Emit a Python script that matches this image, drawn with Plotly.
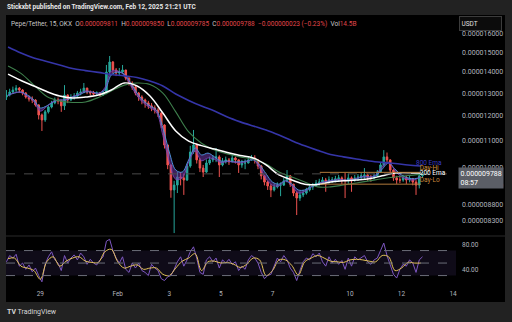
import numpy as np
import pandas as pd
import plotly.graph_objects as go

# ---------------- data (prices in units of 1e-6 USDT) ----------------
candle_start = "2025-01-27 16:30"   # centre of first 3h candle
first_open = 12.82
closes = [12.91, 13.05, 13.14, 13.23, 13.14, 13.00, 12.82, 12.73, 12.69, 12.47,
          12.04, 11.83, 12.17, 12.38, 12.56, 12.69, 12.65, 12.43, 12.91, 12.69,
          12.82, 12.86, 13.00, 13.05, 13.23, 13.05, 13.00, 12.96, 13.00, 12.91,
          13.00, 14.00, 14.50, 14.10, 13.95, 14.00, 14.10, 13.70, 13.47, 13.28,
          13.00, 12.82, 12.69, 12.56, 12.43, 12.34, 12.25, 12.12, 11.62, 10.83,
          10.10, 9.25, 9.41, 9.68, 9.65, 9.58, 10.06, 10.57, 10.83, 10.28,
          9.99, 9.85, 10.17, 10.28, 10.35, 10.39, 10.10, 10.21, 10.28, 10.21,
          10.35, 10.28, 10.10, 10.17, 10.17, 10.28, 10.35, 10.28, 10.06, 9.72,
          9.51, 9.38, 9.25, 9.35, 9.41, 9.41, 9.55, 9.72, 9.44, 9.15,
          8.99, 9.09, 9.15, 9.25, 9.35, 9.38, 9.48, 9.51, 9.58, 9.55,
          9.58, 9.58, 9.62, 9.65, 9.58, 9.58, 9.65, 9.58, 9.65, 9.68,
          9.72, 9.75, 9.68, 9.65, 9.72, 9.85, 10.10, 10.39, 10.28, 9.92,
          9.65, 9.58, 9.58, 9.65, 9.58, 9.62, 9.51, 9.41, 9.72, 9.788]
highs = [13.14, 13.20, 13.30, 13.37, 13.28, 13.18, 13.05, 12.90, 12.85, 12.72,
         12.50, 12.10, 12.25, 12.45, 12.65, 12.80, 12.80, 12.70, 13.37, 12.95,
         12.95, 13.00, 13.10, 13.20, 13.47, 13.25, 13.12, 13.10, 13.08, 13.05,
         13.10, 14.35, 14.81, 14.55, 14.20, 14.20, 14.35, 14.10, 13.75, 13.55,
         13.35, 13.05, 12.90, 12.75, 12.65, 12.55, 12.45, 12.35, 12.15, 11.65,
         10.85, 10.10, 9.55, 9.85, 9.85, 9.80, 10.15, 10.80, 11.42, 10.90,
         10.35, 10.10, 10.30, 10.40, 10.45, 10.72, 10.45, 10.35, 10.40, 10.35,
         10.46, 10.40, 10.30, 10.28, 10.30, 10.40, 10.46, 10.45, 10.30, 10.10,
         9.75, 9.55, 9.45, 9.45, 9.50, 9.50, 9.65, 9.92, 9.75, 9.45,
         9.20, 9.20, 9.25, 9.32, 9.45, 9.48, 9.58, 9.62, 9.68, 9.65,
         9.70, 9.68, 9.72, 9.75, 9.70, 9.82, 9.80, 9.70, 9.75, 9.78,
         9.82, 9.99, 9.80, 9.75, 9.80, 9.92, 10.20, 10.64, 10.55, 10.30,
         9.95, 9.72, 9.70, 9.75, 9.72, 9.72, 9.65, 9.58, 9.80, 9.85]
lows = [12.69, 12.85, 12.98, 13.05, 13.02, 12.90, 12.75, 12.62, 12.55, 12.40,
        11.85, 11.38, 11.75, 12.10, 12.32, 12.50, 12.50, 12.17, 12.25, 12.55,
        12.65, 12.70, 12.80, 12.90, 13.00, 12.95, 12.90, 12.88, 12.88, 12.85,
        12.88, 12.95, 13.95, 13.95, 13.80, 13.80, 13.90, 13.60, 13.35, 13.15,
        12.90, 12.65, 12.50, 12.35, 12.30, 12.20, 12.10, 11.95, 11.50, 10.70,
        9.95, 9.00, 7.95, 9.15, 9.40, 9.09, 9.55, 10.00, 10.50, 10.15,
        9.85, 9.68, 9.82, 10.10, 10.20, 10.20, 9.68, 10.05, 10.15, 10.10,
        10.20, 10.15, 9.82, 10.00, 9.95, 10.15, 10.25, 10.15, 9.95, 9.60,
        9.40, 9.25, 9.02, 9.20, 9.30, 9.05, 9.38, 9.50, 9.35, 9.05,
        8.47, 8.90, 9.02, 9.10, 9.20, 9.25, 9.35, 9.40, 9.45, 9.19,
        9.45, 9.48, 9.50, 9.52, 9.45, 8.99, 9.45, 9.19, 9.52, 9.55,
        9.60, 9.62, 9.55, 9.52, 9.60, 9.68, 9.82, 10.05, 10.15, 9.82,
        9.55, 9.45, 9.48, 9.52, 9.45, 9.50, 9.40, 9.09, 9.30, 9.65]

# moving averages (6h samples / 12h samples)
ma_start = "2025-01-27 18:00"
ema_fast = [12.91, 13.00, 13.05, 12.91, 12.69, 12.34, 12.43, 12.60, 12.69, 12.69,
            12.82, 12.91, 13.05, 13.05, 13.00, 13.14, 13.85, 14.00, 13.90, 13.47,
            13.00, 12.65, 12.43, 12.25, 11.50, 10.57, 9.92, 9.85, 10.28, 10.72,
            10.46, 10.53, 10.39, 10.24, 10.24, 10.21, 10.21, 10.24, 10.28, 10.10,
            9.79, 9.51, 9.44, 9.55, 9.44, 9.25, 9.25, 9.35, 9.44, 9.51,
            9.55, 9.58, 9.58, 9.58, 9.62, 9.68, 9.68, 9.72, 9.95, 10.17,
            9.95, 9.75, 9.65, 9.62, 9.68]
ema_cloud = [12.88, 13.02, 13.03, 12.85, 12.62, 12.20, 12.40, 12.62, 12.68, 12.70,
             12.84, 12.95, 13.10, 13.05, 12.98, 13.25, 14.05, 14.05, 13.85, 13.35,
             12.88, 12.55, 12.35, 12.15, 11.20, 10.20, 9.60, 9.65, 10.20, 10.60,
             10.25, 10.35, 10.30, 10.18, 10.22, 10.20, 10.17, 10.22, 10.30, 10.00,
             9.62, 9.40, 9.38, 9.55, 9.38, 9.15, 9.20, 9.35, 9.45, 9.52,
             9.56, 9.59, 9.58, 9.57, 9.63, 9.70, 9.68, 9.75, 10.05, 10.20,
             9.90, 9.68, 9.60, 9.58, 9.70]
ema_white = [13.90, 13.59, 13.33, 13.07, 12.87, 12.78, 12.82, 12.91, 13.14, 13.47,
             13.33, 12.87, 12.12, 11.38, 10.98, 10.81, 10.68, 10.55, 10.44, 10.35,
             10.10, 9.75, 9.58, 9.44, 9.43, 9.51, 9.55, 9.58, 9.62, 9.72,
             9.82, 9.82, 9.82]
ema_green = [14.30, 13.93, 13.37, 12.85, 12.65, 12.58, 12.60, 12.80, 13.10, 13.37,
             13.47, 13.40, 13.00, 12.17, 11.34, 10.90, 10.64, 10.50, 10.39, 10.31,
             10.13, 9.85, 9.68, 9.51, 9.35, 9.35, 9.41, 9.48, 9.55, 9.62,
             9.68, 9.73, 9.77]
ema_800 = [15.29, 14.97, 14.71, 14.53, 14.35, 14.17, 14.07, 13.98, 13.88, 13.81,
           13.73, 13.56, 13.33, 12.96, 12.67, 12.42, 12.21, 11.95, 11.75, 11.58,
           11.42, 11.22, 11.00, 10.80, 10.63, 10.48, 10.39, 10.31, 10.24, 10.19,
           10.15, 10.10, 10.06]

# RSI (3h samples) and its moving average (6h samples)
rsi = [52, 62, 58, 64, 45, 50, 40, 47, 36, 42, 30, 20, 48, 60, 68, 55, 50, 38, 62, 50,
       58, 63, 55, 66, 60, 48, 56, 50, 47, 55, 60, 85, 88, 70, 58, 50, 60, 40, 35, 50,
       42, 50, 38, 35, 30, 48, 42, 38, 25, 22, 28, 30, 40, 52, 60, 45, 55, 68, 76, 58,
       35, 32, 55, 60, 52, 58, 42, 55, 50, 56, 48, 52, 38, 45, 40, 55, 62, 58, 50, 35,
       25, 30, 32, 45, 58, 52, 62, 55, 42, 35, 22, 38, 52, 58, 55, 65, 60, 66, 52, 45,
       60, 50, 56, 48, 54, 40, 58, 45, 60, 55, 58, 62, 52, 48, 55, 58, 70, 82, 62, 45,
       32, 26, 40, 48, 45, 55, 50, 35, 55, 60]
rsi_ma = [57, 58, 45, 42, 38, 24, 52, 60, 45, 53, 58, 60, 53, 51, 51, 68, 72, 52, 42, 45,
          47, 40, 42, 42, 32, 30, 42, 53, 58, 65, 38, 52, 53, 50, 51, 48, 43, 48, 58, 55,
          30, 38, 55, 55, 46, 31, 52, 58, 62, 58, 53, 52, 51, 55, 56, 55, 53, 52, 62, 60,
          38, 42, 51, 50, 50]

# levels and labels
last_price = 9.788
day_hi = 9.84
day_lo = 9.44
level_start, level_end = "2025-02-08 20:00", "2025-02-12 18:00"
price_ticks = [16.0, 15.0, 14.0, 13.0, 12.0, 11.0, 10.0, 9.4, 8.8, 8.3]
time_ticks = ["2025-01-29", "2025-02-01", "2025-02-03", "2025-02-05", "2025-02-07",
              "2025-02-10", "2025-02-12", "2025-02-14"]
time_labels = ["29", "Feb", "3", "5", "7", "10", "12", "14"]
rsi_ticks = [80, 40]
rsi_bands = [70, 50, 30]

# ---------------- build ----------------
E = 1e-6
W, H = 512, 322
def py(px):  # paper y from pixel row
    return (H - px) / H

t_c = pd.date_range(candle_start, periods=len(closes), freq="3h")
t6 = pd.date_range(ma_start, periods=len(ema_fast), freq="6h")
t12 = pd.date_range(ma_start, periods=len(ema_white), freq="12h")
opens = [first_open] + closes[:-1]
sc = lambda a: [v * E for v in a]

x_range = ["2025-01-27 16:05", "2025-02-14 02:41"]
FONT = "Roboto, Liberation Sans, sans-serif"
GRAY = "#b2b5be"

fig = go.Figure()

fig.add_trace(go.Scatter(x=t6, y=sc(ema_fast), mode="lines", line=dict(color="#4b8fd6", width=1, shape="spline"), hoverinfo="skip"))
fig.add_trace(go.Scatter(x=t6, y=sc(ema_cloud), mode="lines", line=dict(color="#7b45b8", width=0.8, shape="spline"),
                         fill="tonexty", fillcolor="rgba(112,58,168,0.55)", hoverinfo="skip"))
fig.add_trace(go.Scatter(x=t12, y=sc(ema_800), mode="lines", line=dict(color="#3535a8", width=1.6, shape="spline"), hoverinfo="skip"))
fig.add_trace(go.Scatter(x=t12, y=sc(ema_green), mode="lines", line=dict(color="#3e7f4c", width=1.1, shape="spline"), hoverinfo="skip"))
fig.add_trace(go.Scatter(x=t12, y=sc(ema_white), mode="lines", line=dict(color="#ffffff", width=1.5, shape="spline"), hoverinfo="skip"))

# day hi/lo levels and last price line
fig.add_trace(go.Scatter(x=[level_start, level_end], y=[day_hi * E] * 2, mode="lines", line=dict(color="#b07a3c", width=1), hoverinfo="skip"))
fig.add_trace(go.Scatter(x=[level_start, level_end], y=[day_lo * E] * 2, mode="lines", line=dict(color="#b07a3c", width=1), hoverinfo="skip"))
fig.add_trace(go.Scatter(x=x_range, y=[last_price * E] * 2, mode="lines", line=dict(color="#4a4a4a", width=1, dash="dash"), hoverinfo="skip"))

fig.add_trace(go.Candlestick(x=t_c, open=sc(opens), high=sc(highs), low=sc(lows), close=sc(closes),
                             increasing=dict(line=dict(color="#26a69a", width=1), fillcolor="#26a69a"),
                             decreasing=dict(line=dict(color="#ef5350", width=1), fillcolor="#ef5350"),
                             whiskerwidth=0, hoverinfo="skip"))

# right-end labels
lab_x = ["2025-02-12 13:30", "2025-02-12 17:00", "2025-02-12 17:00", "2025-02-12 17:00"]
lab_y = [10.17, 9.99, 9.79, 9.55]
lab_t = ["800 Ema", "Day-Hi", "200 Ema", "Day-Lo"]
lab_c = ["#3a3ac0", "#d09040", "#ffffff", "#c8863a"]
fig.add_trace(go.Scatter(x=lab_x, y=sc(lab_y), mode="text", text=lab_t, textposition="middle right",
                         textfont=dict(family=FONT, size=6.5, color=lab_c), cliponaxis=False, hoverinfo="skip"))

# RSI pane
fig.add_trace(go.Scatter(x=t_c, y=rsi, yaxis="y2", mode="lines", line=dict(color="#7e57c2", width=1), hoverinfo="skip"))
fig.add_trace(go.Scatter(x=t6, y=rsi_ma, yaxis="y2", mode="lines", line=dict(color="#e6c45a", width=1, shape="spline"), hoverinfo="skip"))

shapes = [
    dict(type="rect", xref="paper", yref="paper", x0=6 / W, x1=505 / W, y0=py(302), y1=py(15),
         fillcolor="#000000", line=dict(width=0), layer="below"),
    dict(type="line", xref="paper", yref="paper", x0=6 / W, x1=505 / W, y0=py(236), y1=py(236),
         line=dict(color="#2a2a2a", width=1)),
    dict(type="rect", xref="x", yref="y2", x0=x_range[0], x1=x_range[1], y0=rsi_bands[2], y1=rsi_bands[0],
         fillcolor="rgba(126,87,194,0.12)", line=dict(width=0), layer="below"),
]
for b in rsi_bands:
    shapes.append(dict(type="line", xref="x", yref="y2", x0=x_range[0], x1=x_range[1], y0=b, y1=b,
                       line=dict(color="#6a6d78", width=1, dash="dash")))

hdr_lab = "#c7c7c7"
hdr_val = "#e0464a"
def s(t, c):
    return f"<span style='color:{c}'>{t}</span>"
header = (s("Pepe/Tether, 15, OKX  O", hdr_lab) + s("0.000009811", hdr_val) + s("  H", hdr_lab) + s("0.000009850", hdr_val)
          + s("  L", hdr_lab) + s("0.000009785", hdr_val) + s("  C", hdr_lab) + s("0.000009788", hdr_val)
          + s("  −0.000000023 (−0.23%)", hdr_val) + s("  Vol", hdr_lab) + s("14.5B", hdr_val))

annotations = [
    dict(xref="paper", yref="paper", x=5 / W, y=py(7.5), xanchor="left", yanchor="middle", showarrow=False,
         text="<b>Stickxbt published on TradingView.com, Feb 12, 2025 21:21 UTC</b>",
         font=dict(family=FONT, size=6.5, color="#e8e8e8")),
    dict(xref="paper", yref="paper", x=9 / W, y=py(23.5), xanchor="left", yanchor="middle", showarrow=False,
         text=header, font=dict(family=FONT, size=6.5, color=hdr_lab)),
    dict(xref="paper", yref="paper", x=459 / W, y=py(23.7), xanchor="left", yanchor="middle", showarrow=False,
         text="USDT", align="left", width=38, height=10, bgcolor="#0c0c0c", bordercolor="#3c3c3c", borderwidth=1,
         borderpad=1.5, font=dict(family=FONT, size=6.5, color="#e0e0e0")),
    dict(xref="paper", yref="y", x=458 / W, y=float(np.log10(last_price * E)), xanchor="left", yanchor="middle",
         yshift=-4, showarrow=False, text="0.000009788<br>08:57", align="left", bgcolor="#5b5e66",
         borderpad=1.5, font=dict(family=FONT, size=7, color="#ffffff")),
    dict(xref="paper", yref="paper", x=5 / W, y=py(312), xanchor="left", yanchor="middle", showarrow=False,
         text="<b>TV</b> TradingView", font=dict(family=FONT, size=7, color="#d8d8d8")),
]

fig.update_layout(
    width=W, height=H, margin=dict(l=0, r=0, t=0, b=0),
    paper_bgcolor="#222222", plot_bgcolor="rgba(0,0,0,0)",
    showlegend=False, shapes=shapes, annotations=annotations,
    font=dict(family=FONT, size=7, color=GRAY),
    xaxis=dict(domain=[6 / W, 456 / W], range=x_range, anchor="y2", type="date",
               tickvals=time_ticks, ticktext=time_labels, ticks="", showgrid=False, zeroline=False,
               showline=False, rangeslider=dict(visible=False), tickfont=dict(size=6.5, color=GRAY)),
    yaxis=dict(domain=[py(236), py(15)], type="log", range=[-5.10413, -4.76688], side="right",
               tickvals=[v * E for v in price_ticks], ticktext=[f"{v * E:.9f}" for v in price_ticks],
               ticks="", showgrid=False, zeroline=False, showline=False, ticklabelstandoff=5,
               tickfont=dict(size=7, color=GRAY)),
    yaxis2=dict(domain=[py(288), py(236)], range=[10.08, 93.28], side="right", anchor="x",
                tickvals=rsi_ticks, ticktext=[f"{v:.2f}" for v in rsi_ticks], ticks="",
                showgrid=False, zeroline=False, showline=False, ticklabelstandoff=5,
                tickfont=dict(size=6.5, color=GRAY)),
)

fig.write_html("out.html")
